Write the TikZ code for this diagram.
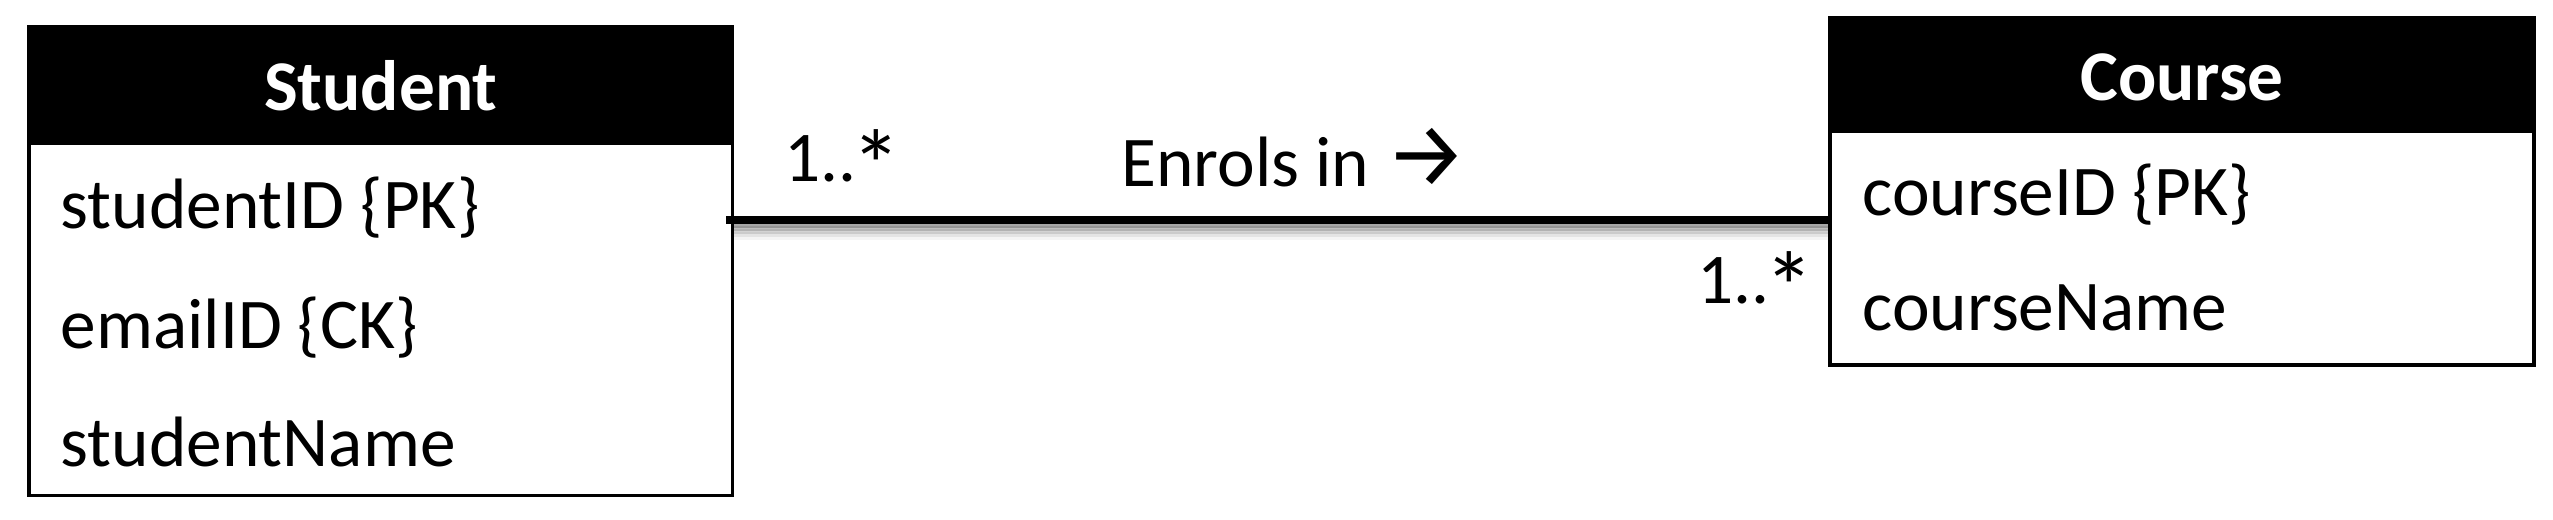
\documentclass[tikz,border=0pt]{standalone}
\usepackage{fontspec}
\setmainfont{Carlito}
\newfontfamily\arrowfont{Fira Sans}
\usetikzlibrary{calc}
\newcommand{\bigstar}{\kern-0.07em\raisebox{-0.27em}{\scalebox{1.4}{*}}}
\begin{document}
\begin{tikzpicture}[x=0.3bp,y=-0.3bp,
  entbox/.style={draw=black, line width=1.1bp, fill=white, inner sep=0pt},
  headbox/.style={fill=black, inner sep=0pt},
  headtext/.style={text=white, font=\fontsize{21.4bp}{25bp}\selectfont\bfseries, inner sep=0pt, anchor=base},
  attr/.style={font=\fontsize{21.4bp}{25bp}\selectfont, inner sep=0pt, anchor=base west},
  lbl/.style={font=\fontsize{21.4bp}{25bp}\selectfont, inner sep=0pt, anchor=base west},
  conn/.style={draw=black, line width=2.3bp, line cap=butt},
  shad/.style={draw=black, line width=2.3bp, line cap=butt}]
\useasboundingbox (0,0) rectangle (2553,519);
\coordinate (link) at (0,220);
% entity boxes
\node[entbox, minimum width=211.05bp, minimum height=140.7bp] (student) at (380.75,261) {};
\node[entbox, minimum width=211.2bp, minimum height=104.1bp] (course) at (2182,191.5) {};
% shadow of the connector
\foreach \d/\o in {4/0.22,7/0.16,10/0.11,13/0.07,16/0.04}{
  \draw[shad, draw opacity=\o] ($(student.east |- link)+(0,\d)$) -- ($(course.west |- link)+(0,\d)$);
}
\node[entbox, minimum width=211.05bp, minimum height=140.7bp] (studentbg) at (380.75,261) {};
\node[entbox, minimum width=211.2bp, minimum height=104.1bp] (coursebg) at (2182,191.5) {};
% headers
\node[headbox, minimum width=211.8bp, minimum height=36bp] (studentHead) at (380,85) {};
\node[headbox, minimum width=212.4bp, minimum height=34.8bp] (courseHead) at (2182,75) {};
\node[headtext] (studentTitle) at (380.75,110) {Student};
\node[headtext] (courseTitle) at (2182,100) {Course};
% attributes
\node[attr] (sa1) at (60,228) {studentID \{PK\}};
\node[attr] (sa2) at (60,348) {emailID \{CK\}};
\node[attr] (sa3) at (60,466) {studentName};
\node[attr] (ca1) at (1862,215) {courseID \{PK\}};
\node[attr] (ca2) at (1862,330) {courseName};
% connector
\draw[conn] ($(student.east |- link)+(-8,0)$) -- (course.west |- link);
% labels
\node[lbl] (m1) at (784,181) {1..\bigstar};
\node[lbl] (m2) at (1697,303) {1..\bigstar};
\node[lbl] (rel) at (1121,186) {Enrols in {\arrowfont\scalebox{1.28}{→}}};
\end{tikzpicture}
\end{document}
